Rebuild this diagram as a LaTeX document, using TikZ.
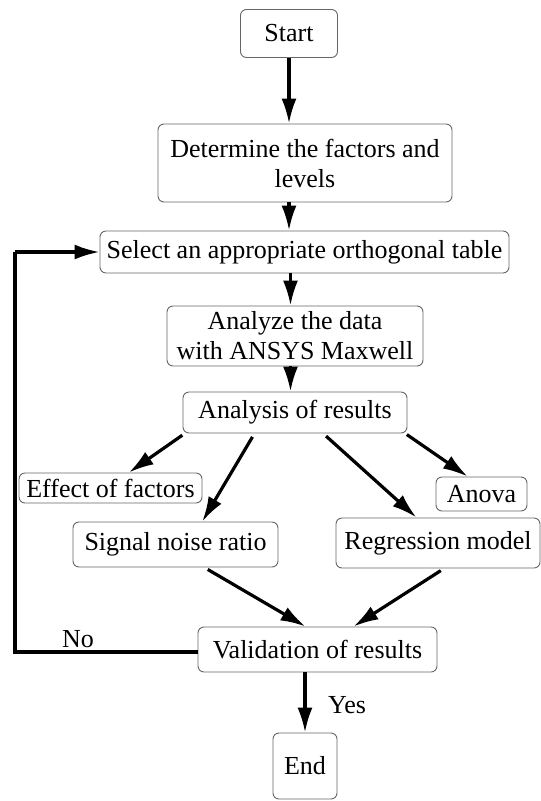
\documentclass[tikz,border=0pt]{standalone}
\usepackage{fontspec}
\setmainfont{Liberation Serif}
\usetikzlibrary{arrows.meta,calc}
\begin{document}
\begin{tikzpicture}[x=1pt,y=-1pt,
  box/.style={draw=black!60, line width=0.9pt, rounded corners=6pt, inner sep=0pt, align=center, font=\fontsize{26}{30}\selectfont},
  lbl/.style={inner sep=0pt, font=\fontsize{26}{30}\selectfont},
  arr/.style={line width=3.2pt, -{Latex[length=25pt,width=15pt]}},
  fbline/.style={line width=3.2pt}]
\useasboundingbox (0,0) rectangle (541,801);
\node[box, minimum width=97pt, minimum height=48pt] (start) at (289,33.5) {Start};
\node[box, minimum width=294pt, minimum height=78pt] (det) at (305,163) {Determine the factors and\\levels};
\node[box, minimum width=409pt, minimum height=42pt] (sel) at (304.5,252) {Select an appropriate orthogonal table};
\node[box, minimum width=256pt, minimum height=60pt] (anz) at (295,336) {Analyze the data\\with ANSYS Maxwell};
\node[box, minimum width=224pt, minimum height=41pt] (ana) at (295,412.5) {Analysis of results};
\node[box, minimum width=183pt, minimum height=30pt] (eff) at (110.5,488) {Effect of factors};
\node[box, minimum width=91pt, minimum height=34pt] (anova) at (481.5,494) {Anova};
\node[box, minimum width=205pt, minimum height=45pt] (sig) at (175.5,544.5) {Signal noise ratio};
\node[box, minimum width=204pt, minimum height=50pt] (reg) at (438,543) {Regression model};
\node[box, minimum width=239pt, minimum height=45pt] (val) at (317.5,649.5) {Validation of results};
\node[box, minimum width=64pt, minimum height=66pt] (end) at (305,766) {End};
\node[lbl] (no) at (78,639) {No};
\node[lbl] (yes) at (347,705) {Yes};
\coordinate (fb) at (15,652);
% vertical arrows
\draw[arr] (start.south) -- (start.south |- det.north);
\draw[arr] (det.south -| start.south) -- (sel.north -| start.south);
\draw[arr] ($(sel.south -| start.south)+(1.5,0)$) -- ($(anz.north -| start.south)+(1.5,0)$);
\draw[arr] ($(anz.south -| start.south)+(1.5,0)$) -- ($(ana.north -| start.south)+(1.5,0)$);
% diagonal arrows
\draw[arr, shorten <=3pt] ($(ana.south west)!0.01!(ana.south east)$) -- ($(eff.north west)!0.6!(eff.north east)$);
\draw[arr, shorten <=4pt] ($(ana.south west)!0.32!(ana.south east)$) -- ($(sig.north west)!0.63!(sig.north east)$);
\draw[arr, shorten <=4pt] ($(ana.south west)!0.625!(ana.south east)$) -- ($(reg.north west)!0.395!(reg.north east)$);
\draw[arr, shorten <=2pt] ($(ana.south west)!0.99!(ana.south east)$) -- ($(anova.north west)!0.35!(anova.north east)$);
\draw[arr, shorten <=4pt] ($(sig.south west)!0.64!(sig.south east)$) -- ($(val.north west)!0.45!(val.north east)$);
\draw[arr, shorten <=4pt] ($(reg.south west)!0.53!(reg.south east)$) -- ($(val.north west)!0.65!(val.north east)$);
\draw[arr] (val.south -| end.north) -- (end.north);
% feedback
\draw[fbline] ($(val.west)+(0,2.5)$) -- ($(val.west -| fb)+(0,2.5)$) -- (sel.west -| fb);
\draw[arr] (sel.west -| fb) -- (sel.west);
\end{tikzpicture}
\end{document}
